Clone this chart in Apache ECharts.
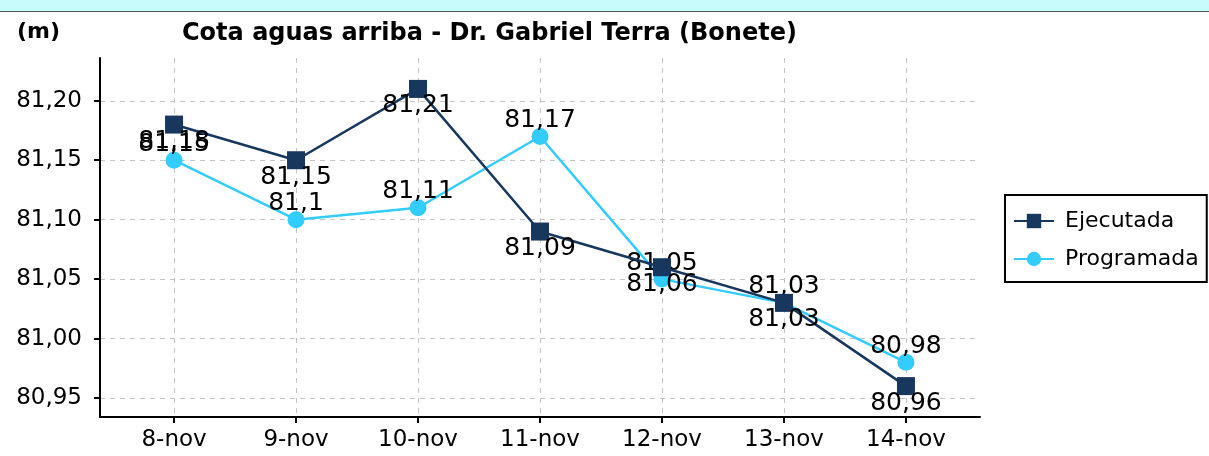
<!DOCTYPE html>
<html><head><meta charset="utf-8">
<script src="https://cdn.jsdelivr.net/npm/echarts@6/dist/echarts.min.js"></script>
<style>
html,body{margin:0;padding:0;background:#fff;}
#band{position:absolute;left:0;top:0;width:1209px;height:11px;background:#c8fcfc;border-bottom:1px solid #555;}
#chart{position:absolute;left:0;top:0;width:1209px;height:456px;}
</style></head><body>
<div id="band"></div>
<div id="chart"></div>
<script>
const categories = ['8-nov', '9-nov', '10-nov', '11-nov', '12-nov', '13-nov', '14-nov'];
const ejecutada = [81.18, 81.15, 81.21, 81.09, 81.06, 81.03, 80.96];
const programada = [81.15, 81.10, 81.11, 81.17, 81.05, 81.03, 80.98];
const yTicks = [80.95, 81.00, 81.05, 81.10, 81.15, 81.20];
const titleText = 'Cota aguas arriba - Dr. Gabriel Terra (Bonete)';
const unitText = '(m)';

const FONT = 'DejaVu Sans';
const xIdx = categories.map((c, i) => i);
const fmtLabel = v => String(v).replace('.', ',');

const chart = echarts.init(document.getElementById('chart'), null, {renderer: 'canvas'});
chart.setOption({
  backgroundColor: 'transparent',
  animation: false,
  title: [
    {text: titleText, left: 177, top: 17, textStyle: {fontFamily: FONT, fontWeight: 'bold', fontSize: 24, color: '#000'}},
    {text: unitText, left: 12, top: 16, textStyle: {fontFamily: FONT, fontWeight: 'bold', fontSize: 22, color: '#000'}}
  ],
  legend: {
    orient: 'vertical', left: 1005, top: 195,
    borderColor: '#000', borderWidth: 2, padding: [15, 8, 12, 8],
    itemWidth: 40, itemHeight: 18, itemGap: 16,
    textStyle: {fontFamily: FONT, fontSize: 22, color: '#000', padding: [0, 0, 0, 6]},
    data: ['Ejecutada', 'Programada']
  },
  grid: {left: 100, right: 229, top: 58, bottom: 39},
  xAxis: {
    type: 'value', min: -0.607, max: 6.607,
    axisLine: {show: true, onZero: false, lineStyle: {color: '#000', width: 2}},
    axisTick: {show: true, customValues: xIdx, length: 6, lineStyle: {color: '#000', width: 2}},
    axisLabel: {customValues: xIdx, margin: 12, formatter: v => categories[Math.round(v)], fontFamily: FONT, fontSize: 23, color: '#000'},
    splitLine: {show: true, lineStyle: {type: [5, 5], color: '#c4c4c4', width: 1}}
  },
  yAxis: {
    type: 'value', min: 80.934, max: 81.236,
    axisLine: {show: true, onZero: false, lineStyle: {color: '#000', width: 2}},
    axisTick: {show: true, customValues: yTicks, length: 6, lineStyle: {color: '#000', width: 2}},
    axisLabel: {customValues: yTicks, margin: 18, formatter: v => v.toFixed(2).replace('.', ','), fontFamily: FONT, fontSize: 23, color: '#000'},
    splitLine: {show: true, lineStyle: {type: [5, 5], color: '#c4c4c4', width: 1}}
  },
  series: [
    {
      name: 'Ejecutada', type: 'line',
      data: ejecutada.map((v, i) => [i, v]),
      symbol: 'rect', symbolSize: 18,
      lineStyle: {color: '#17375e', width: 2.5},
      itemStyle: {color: '#17375e'},
      label: {show: true, position: 'inside', offset: [0, 17], formatter: p => fmtLabel(p.value[1]), fontFamily: FONT, fontSize: 25, color: '#000'},
      z: 3
    },
    {
      name: 'Programada', type: 'line',
      data: programada.map((v, i) => [i, v]),
      symbol: 'circle', symbolSize: 17,
      lineStyle: {color: '#33ccff', width: 2.5},
      itemStyle: {color: '#33ccff'},
      label: {show: true, position: 'inside', offset: [0, -16], formatter: p => fmtLabel(p.value[1]), fontFamily: FONT, fontSize: 25, color: '#000'},
      z: 2
    }
  ]
});
</script>
</body></html>
